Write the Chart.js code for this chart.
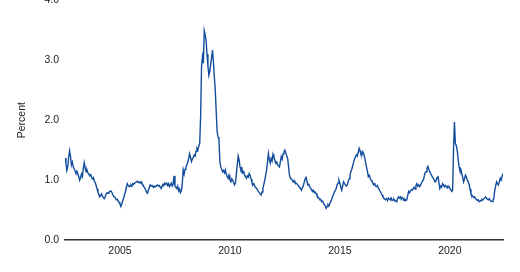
<!DOCTYPE html>
<html>
<head>
<meta charset="utf-8">
<script src="https://cdn.jsdelivr.net/npm/chart.js@4/dist/chart.umd.min.js"></script>
<style>
  html, body { margin: 0; padding: 0; background: #fff; }
  #wrap { width: 520px; height: 272px; overflow: hidden; position: relative; }
  #myChart { position: absolute; left: 0; top: -12px; }
</style>
</head>
<body>
<div id="wrap"><canvas id="myChart" width="520" height="284"></canvas></div>
<script>
// Series runs semi-monthly from mid 2002 (decimal years)
const firstDate = 2002.5;
const stepYears = 1 / 24;

// Percent, one row per year
const spread = [
  1.37, 1.28, 1.16, 1.22, 1.38, 1.49, 1.40, 1.25, 1.30, 1.22, 1.19, 1.15, // 2002 H2
  1.12, 1.15, 1.10, 1.06, 1.00, 1.04, 1.10, 1.06, 1.20, 1.29, 1.20, 1.14, 1.17, 1.12, 1.10, 1.07, 1.09, 1.05, 1.02, 1.04, 0.98, 0.96, 0.91, 0.85, // 2003
  0.80, 0.76, 0.72, 0.74, 0.77, 0.73, 0.70, 0.69, 0.73, 0.77, 0.79, 0.78, 0.80, 0.81, 0.82, 0.80, 0.76, 0.73, 0.72, 0.70, 0.67, 0.68, 0.65, 0.63, // 2004
  0.60, 0.56, 0.60, 0.66, 0.70, 0.76, 0.81, 0.88, 0.94, 0.91, 0.89, 0.90, 0.92, 0.90, 0.94, 0.93, 0.95, 0.96, 0.97, 0.98, 0.96, 0.97, 0.95, 0.97, // 2005
  0.94, 0.92, 0.89, 0.87, 0.84, 0.80, 0.78, 0.83, 0.88, 0.92, 0.90, 0.91, 0.89, 0.88, 0.90, 0.89, 0.91, 0.92, 0.90, 0.91, 0.88, 0.86, 0.90, 0.93, // 2006
  0.92, 0.95, 0.93, 0.95, 0.91, 0.94, 0.89, 0.92, 0.95, 0.90, 0.93, 1.07, 0.90, 0.88, 0.86, 0.90, 0.82, 0.85, 0.79, 0.82, 0.95, 1.17, 1.10, 1.18, // 2007
  1.22, 1.25, 1.30, 1.36, 1.44, 1.38, 1.31, 1.35, 1.38, 1.42, 1.40, 1.48, 1.53, 1.50, 1.57, 1.61, 2.05, 2.89, 3.06, 2.95, 3.49, 3.42, 3.33, 3.10, // 2008
  2.90, 2.75, 2.82, 2.94, 3.05, 3.17, 2.95, 2.72, 2.50, 2.15, 1.81, 1.72, 1.68, 1.31, 1.22, 1.18, 1.14, 1.16, 1.12, 1.17, 1.10, 1.06, 1.03, 1.08, // 2009
  1.00, 0.97, 1.02, 1.00, 0.96, 0.92, 0.95, 1.10, 1.25, 1.40, 1.34, 1.22, 1.17, 1.20, 1.12, 1.14, 1.08, 1.06, 1.03, 1.07, 1.05, 1.11, 1.08, 1.02, // 2010
  0.96, 0.92, 0.94, 0.90, 0.88, 0.86, 0.84, 0.81, 0.79, 0.77, 0.75, 0.80, 0.86, 0.93, 1.00, 1.08, 1.17, 1.30, 1.44, 1.34, 1.28, 1.36, 1.32, 1.43, // 2011
  1.38, 1.33, 1.28, 1.30, 1.25, 1.24, 1.22, 1.30, 1.39, 1.35, 1.44, 1.47, 1.50, 1.45, 1.40, 1.36, 1.22, 1.08, 1.03, 1.02, 1.00, 0.97, 0.99, 0.96, // 2012
  0.95, 0.94, 0.92, 0.90, 0.88, 0.86, 0.83, 0.87, 0.90, 0.96, 1.02, 1.06, 0.98, 0.92, 0.93, 0.89, 0.86, 0.84, 0.81, 0.83, 0.79, 0.80, 0.78, 0.74, // 2013
  0.72, 0.70, 0.67, 0.68, 0.64, 0.65, 0.62, 0.59, 0.57, 0.53, 0.56, 0.59, 0.57, 0.61, 0.64, 0.68, 0.72, 0.76, 0.80, 0.83, 0.86, 0.92, 0.95, 1.00, // 2014
  0.95, 0.88, 0.83, 0.90, 0.97, 0.94, 0.92, 0.90, 0.92, 0.97, 1.02, 1.08, 1.14, 1.18, 1.24, 1.30, 1.35, 1.39, 1.42, 1.40, 1.46, 1.53, 1.49, 1.43, // 2015
  1.42, 1.47, 1.44, 1.38, 1.30, 1.22, 1.15, 1.06, 1.08, 1.03, 1.00, 0.98, 0.95, 0.92, 0.94, 0.90, 0.89, 0.91, 0.86, 0.84, 0.81, 0.78, 0.75, 0.72, // 2016
  0.70, 0.68, 0.67, 0.69, 0.66, 0.70, 0.69, 0.67, 0.70, 0.66, 0.67, 0.68, 0.65, 0.66, 0.64, 0.69, 0.72, 0.70, 0.72, 0.68, 0.71, 0.69, 0.66, 0.68, // 2017
  0.66, 0.67, 0.74, 0.81, 0.79, 0.82, 0.84, 0.83, 0.86, 0.88, 0.85, 0.91, 0.94, 0.90, 0.92, 0.89, 0.91, 0.95, 0.98, 1.00, 1.06, 1.12, 1.14, 1.20, // 2018
  1.23, 1.18, 1.14, 1.11, 1.08, 1.05, 1.03, 1.00, 0.97, 0.99, 1.04, 1.07, 0.96, 0.86, 0.90, 0.88, 0.94, 0.92, 0.89, 0.91, 0.89, 0.87, 0.90, 0.88, // 2019
  0.86, 0.84, 0.81, 0.83, 1.50, 1.97, 1.61, 1.58, 1.50, 1.36, 1.22, 1.16, 1.18, 1.11, 1.05, 0.97, 1.02, 1.08, 1.05, 1.00, 0.97, 0.93, 0.85, 0.78, // 2020
  0.75, 0.73, 0.71, 0.72, 0.69, 0.68, 0.66, 0.67, 0.64, 0.65, 0.66, 0.68, 0.67, 0.69, 0.70, 0.72, 0.70, 0.68, 0.67, 0.69, 0.66, 0.65, 0.64, 0.66, // 2021
  0.70, 0.83, 0.90, 0.97, 0.94, 0.92, 0.97, 1.03, 1.00, 1.06, 1.11 // 2022 H1
];

const xTickYears = [2005, 2010, 2015, 2020];
const yTickValues = [0, 1, 2, 3, 4];

const points = spread.map((v, i) => ({ x: firstDate + i * stepYears, y: v }));
const lastDate = firstDate + (spread.length - 1) * stepYears;

const tickFont = { family: "'Liberation Sans', Arial, sans-serif", size: 10.5 };

const config = {
  type: "line",
  data: {
    datasets: [
      {
        label: "Percent",
        data: points,
        borderColor: "#124c9c",
        borderWidth: 1.4,
        pointRadius: 0,
        tension: 0,
        fill: false,
      },
    ],
  },
  options: {
    responsive: false,
    animation: false,
    layout: { autoPadding: false, padding: { top: 0, right: 17, bottom: 0, left: 0 } },
    plugins: { legend: { display: false }, tooltip: { enabled: false } },
    scales: {
      x: {
        type: "linear",
        min: firstDate,
        max: lastDate,
        grid: { display: false, drawTicks: false },
        border: { display: true, color: "#333", width: 1.5 },
        ticks: { color: "#222", font: tickFont, padding: 5, maxRotation: 0, callback: (v) => String(v) },
        afterBuildTicks: (axis) => {
          axis.ticks = xTickYears.map((y) => ({ value: y }));
        },
        afterFit: (axis) => {
          axis.height = 32;
        },
      },
      y: {
        min: 0,
        max: 4,
        grid: { display: false, drawTicks: false },
        border: { display: false },
        ticks: { color: "#222", font: tickFont, padding: 6, callback: (v) => v.toFixed(1) },
        afterBuildTicks: (axis) => {
          axis.ticks = yTickValues.map((v) => ({ value: v }));
        },
        title: {
          display: true,
          text: "Percent",
          color: "#222",
          font: tickFont,
          padding: { top: 16, bottom: 0 },
        },
        afterFit: (axis) => {
          axis.width = 65;
        },
      },
    },
  },
};

const ctx = document.getElementById("myChart").getContext("2d");
const myChart = new Chart(ctx, config);
</script>
</body>
</html>
